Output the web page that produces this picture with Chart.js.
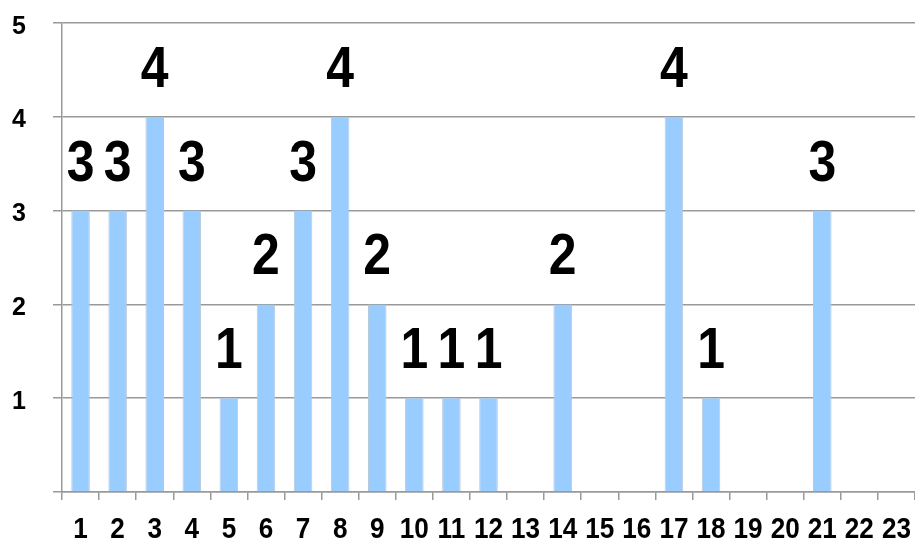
<!DOCTYPE html>
<html>
<head>
<meta charset="utf-8">
<script src="https://cdn.jsdelivr.net/npm/chart.js@4/dist/chart.umd.min.js"></script>
<style>
  html, body { margin: 0; padding: 0; background: #fff; }
  #wrap { width: 915px; height: 544px; }
</style>
</head>
<body>
<div id="wrap"><canvas id="chart"></canvas></div>
<script>
var labels = ['1','2','3','4','5','6','7','8','9','10','11','12','13','14','15','16','17','18','19','20','21','22','23'];
var counts = [3, 3, 4, 3, 1, 2, 3, 4, 2, 1, 1, 1, 0, 2, 0, 0, 4, 1, 0, 0, 3, 0, 0];
var yTicks = [0, 1, 2, 3, 4, 5];

var fontFamily = '"Liberation Sans", Arial, sans-serif';

// draw text squeezed sideways so it looks like the condensed original font
function squeezedText(ctx, text, x, y, size, sx, align) {
    ctx.save();
    ctx.translate(x, y);
    ctx.scale(sx, 1);
    ctx.font = 'bold ' + size + 'px ' + fontFamily;
    ctx.fillStyle = '#000';
    ctx.textAlign = align;
    ctx.textBaseline = 'alphabetic';
    ctx.fillText(text, 0, 0);
    ctx.restore();
}

// value numbers above bars + axis numbers, placed from the chart's own scales
var textLayer = {
    id: 'textLayer',
    afterDraw: function(chart) {
        var ctx = chart.ctx;
        var meta = chart.getDatasetMeta(0);
        var xs = chart.scales.x;
        var ys = chart.scales.y;

        meta.data.forEach(function(bar, i) {
            var v = counts[i];
            if (!v) return;
            squeezedText(ctx, String(v), bar.x, bar.y - 30, 58, 0.86, 'center');
        });

        labels.forEach(function(lab, i) {
            squeezedText(ctx, lab, xs.getPixelForTick(i), xs.top + 46, 29, 0.9, 'center');
        });

        yTicks.forEach(function(v) {
            if (v === 0) return;
            squeezedText(ctx, String(v), 26, ys.getPixelForValue(v) + 10.5, 25, 1, 'right');
        });
    }
};

var config = {
    type: 'bar',
    data: {
        labels: labels,
        datasets: [{
            data: counts,
            backgroundColor: '#99ccff',
            borderColor: '#b8c8d8',
            borderWidth: { left: 1, right: 1, top: 0, bottom: 0 },
            categoryPercentage: 1.0,
            barPercentage: 0.5
        }]
    },
    options: {
        responsive: true,
        maintainAspectRatio: false,
        animation: false,
        layout: { padding: { top: 23, right: 0, left: 0, bottom: 0 } },
        plugins: {
            legend: { display: false },
            tooltip: { enabled: false }
        },
        scales: {
            x: {
                grid: {
                    offset: true,
                    drawOnChartArea: false,
                    drawTicks: true,
                    tickLength: 8,
                    color: '#999',
                    lineWidth: 1.5
                },
                border: { display: true, color: '#999', width: 1.5 },
                ticks: { display: false, autoSkip: false },
                afterFit: function(scale) {
                    scale.height = 52;
                    scale.paddingLeft = 0;
                    scale.paddingRight = 0;
                }
            },
            y: {
                min: 0,
                max: 5,
                afterBuildTicks: function(scale) {
                    scale.ticks = yTicks.map(function(v) { return { value: v }; });
                },
                grid: {
                    color: '#999',
                    lineWidth: 1.5,
                    tickLength: 9
                },
                border: { display: true, color: '#999', width: 1.5 },
                ticks: { display: false },
                afterFit: function(scale) {
                    scale.width = 62;
                    scale.paddingTop = 0;
                    scale.paddingBottom = 0;
                }
            }
        }
    },
    plugins: [textLayer]
};

window.onload = function() {
    var ctx = document.getElementById('chart').getContext('2d');
    window.myBar = new Chart(ctx, config);
};
</script>
</body>
</html>
